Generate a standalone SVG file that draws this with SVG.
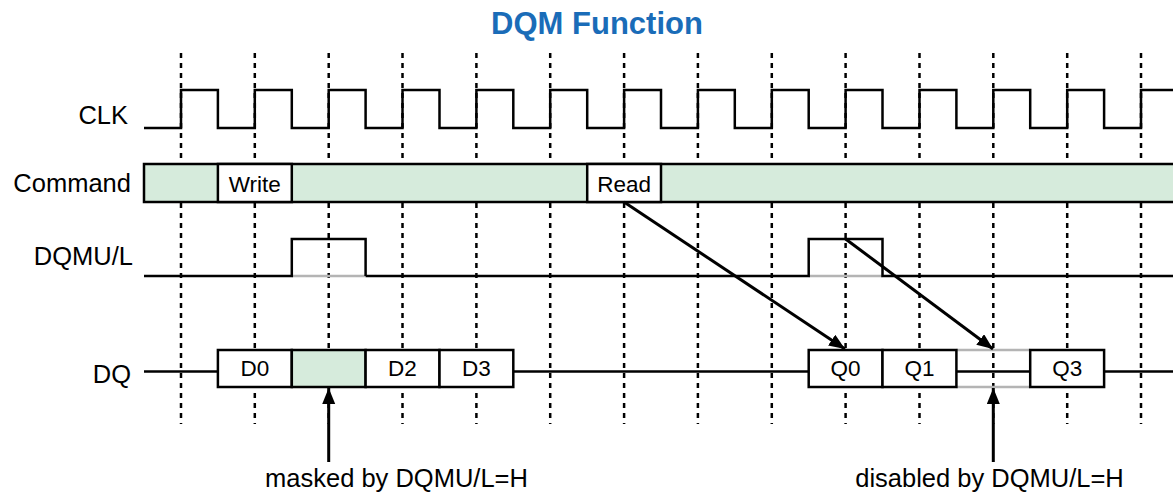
<svg xmlns="http://www.w3.org/2000/svg" width="1173" height="493" viewBox="0 0 1173 493">
<defs>
<marker id="ah" markerUnits="userSpaceOnUse" markerWidth="18" markerHeight="14" refX="16" refY="6.5" orient="auto">
<path d="M0,0 L16,6.5 L0,13 Z" fill="#000"/>
</marker>
<style>
.lbl{font-family:"Liberation Sans",Arial,sans-serif;font-size:25.5px;fill:#000}
.box{font-family:"Liberation Sans",Arial,sans-serif;font-size:22.5px;fill:#000;text-anchor:middle}
.sig{fill:none;stroke:#000;stroke-width:2.5}
.grid{stroke:#000;stroke-width:2.5;stroke-dasharray:5 5}
.wb{fill:#fff;stroke:#000;stroke-width:2.5}
.gb{fill:#d6ebdc;stroke:#000;stroke-width:2.5}
.gray{stroke:#b4b4b4;stroke-width:2.5;fill:none}
.arr{stroke:#000;stroke-width:3;fill:none;marker-end:url(#ah)}
</style>
</defs>
<rect width="1173" height="493" fill="#fff"/>
<text x="597" y="34" text-anchor="middle" style="font-family:'Liberation Sans',Arial,sans-serif;font-size:31px;font-weight:bold;fill:#1a6cb8">DQM Function</text>
<g id="grid">
<line class="grid" x1="181" y1="53" x2="181" y2="424"/>
<line class="grid" x1="254.8" y1="53" x2="254.8" y2="424"/>
<line class="grid" x1="328.7" y1="53" x2="328.7" y2="424"/>
<line class="grid" x1="402.5" y1="53" x2="402.5" y2="424"/>
<line class="grid" x1="476.4" y1="53" x2="476.4" y2="424"/>
<line class="grid" x1="550.2" y1="53" x2="550.2" y2="424"/>
<line class="grid" x1="624.1" y1="53" x2="624.1" y2="424"/>
<line class="grid" x1="697.9" y1="53" x2="697.9" y2="424"/>
<line class="grid" x1="771.8" y1="53" x2="771.8" y2="424"/>
<line class="grid" x1="845.6" y1="53" x2="845.6" y2="424"/>
<line class="grid" x1="919.5" y1="53" x2="919.5" y2="424"/>
<line class="grid" x1="993.3" y1="53" x2="993.3" y2="424"/>
<line class="grid" x1="1067.2" y1="53" x2="1067.2" y2="424"/>
<line class="grid" x1="1141" y1="53" x2="1141" y2="424"/>
</g>
<g id="clk">
<text class="lbl" x="128" y="124" text-anchor="end">CLK</text>
<path class="sig" d="M144,128 H181 V90 H217.9 V128 H254.8 V90 H291.8 V128 H328.7 V90 H365.6 V128 H402.5 V90 H439.5 V128 H476.4 V90 H513.3 V128 H550.2 V90 H587.2 V128 H624.1 V90 H661 V128 H697.9 V90 H734.8 V128 H771.8 V90 H808.7 V128 H845.6 V90 H882.5 V128 H919.5 V90 H956.4 V128 H993.3 V90 H1030.2 V128 H1067.2 V90 H1104.1 V128 H1141 V90 H1176"/>
</g>
<g id="command">
<text class="lbl" x="131" y="192" text-anchor="end">Command</text>
<rect class="gb" x="144" y="164" width="1040" height="38"/>
<g id="write"><rect class="wb" x="217.9" y="164" width="73.9" height="38"/><text class="box" x="254.8" y="192">Write</text></g>
<g id="read"><rect class="wb" x="587.2" y="164" width="73.8" height="38"/><text class="box" x="624.1" y="192">Read</text></g>
</g>
<g id="dqm">
<text class="lbl" x="133" y="265" text-anchor="end">DQMU/L</text>
<line class="gray" x1="291.8" y1="276" x2="365.6" y2="276"/>
<line class="gray" x1="808.7" y1="276" x2="882.5" y2="276"/>
<path class="sig" d="M144,276 H291.8 V239 H365.6 V276"/>
<path class="sig" d="M365.6,276 H808.7 V239 H882.5 V276 H1176"/>
</g>
<g id="dq">
<text class="lbl" x="131" y="383" text-anchor="end">DQ</text>
<line class="sig" x1="144" y1="371.5" x2="218" y2="371.5"/>
<line class="sig" x1="513.3" y1="371.5" x2="808.7" y2="371.5"/>
<line class="sig" x1="956.4" y1="371.5" x2="1030.2" y2="371.5"/>
<line class="sig" x1="1104.1" y1="371.5" x2="1176" y2="371.5"/>
<line class="gray" x1="956.4" y1="350" x2="1030.2" y2="350"/>
<line class="gray" x1="956.4" y1="387" x2="1030.2" y2="387"/>
<g id="d0"><rect class="wb" x="217.9" y="350" width="73.9" height="37"/><text class="box" x="254.8" y="376">D0</text></g>
<g id="d1"><rect class="gb" x="291.8" y="350" width="73.8" height="37"/></g>
<g id="d2"><rect class="wb" x="365.6" y="350" width="73.9" height="37"/><text class="box" x="402.5" y="376">D2</text></g>
<g id="d3"><rect class="wb" x="439.5" y="350" width="73.8" height="37"/><text class="box" x="476.4" y="376">D3</text></g>
<g id="q0"><rect class="wb" x="808.7" y="350" width="73.8" height="37"/><text class="box" x="845.6" y="376">Q0</text></g>
<g id="q1"><rect class="wb" x="882.5" y="350" width="73.9" height="37"/><text class="box" x="919.5" y="376">Q1</text></g>
<g id="q3"><rect class="wb" x="1030.2" y="350" width="73.9" height="37"/><text class="box" x="1067.2" y="376">Q3</text></g>
</g>
<g id="connectors">
<line class="arr" x1="624" y1="202" x2="845" y2="349"/>
<line class="arr" x1="845.6" y1="239" x2="993" y2="349"/>
<line class="arr" x1="328.7" y1="462" x2="328.7" y2="388"/>
<line class="arr" x1="993.3" y1="462" x2="993.3" y2="388"/>
</g>
<g id="notes">
<text class="lbl" x="396.5" y="487" text-anchor="middle">masked by DQMU/L=H</text>
<text class="lbl" x="989.5" y="487" text-anchor="middle">disabled by DQMU/L=H</text>
</g>
</svg>
